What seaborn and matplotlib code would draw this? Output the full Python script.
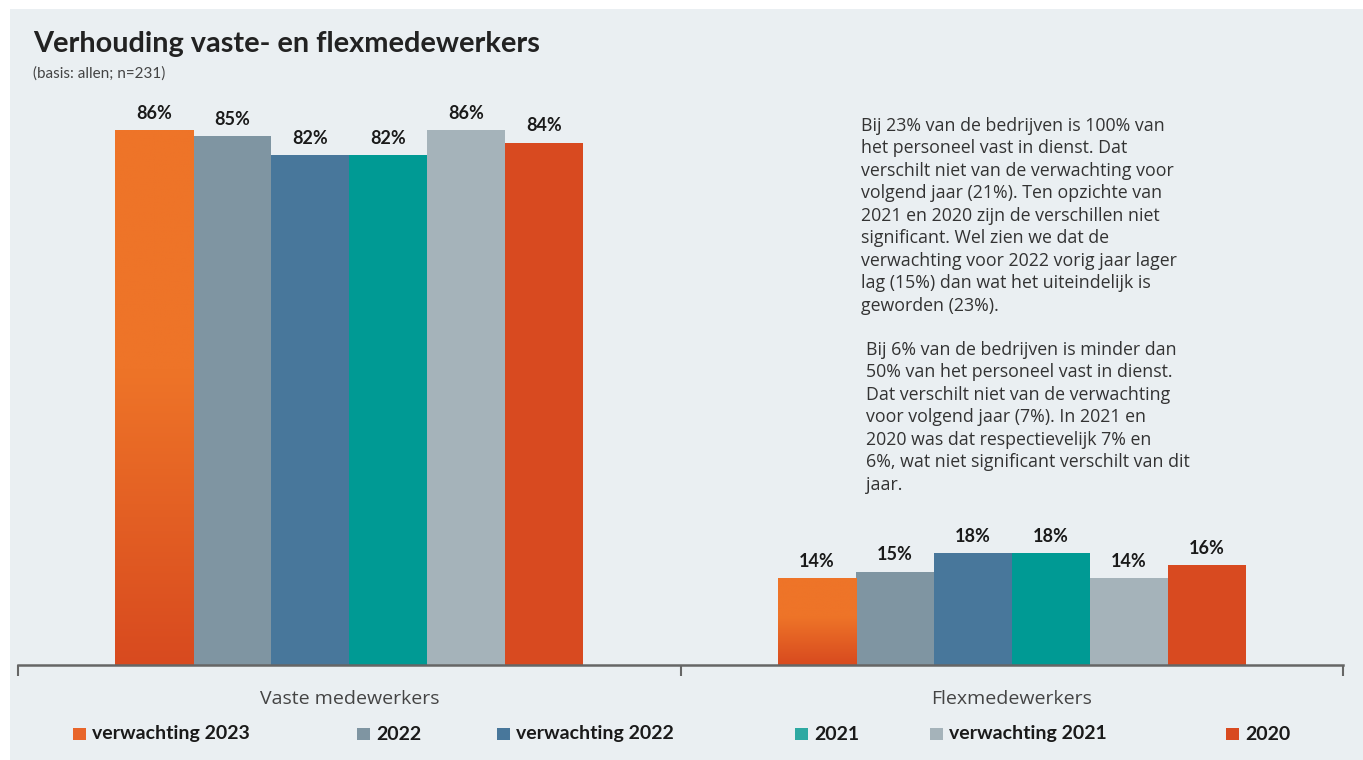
import numpy as np
import pandas as pd
import matplotlib
matplotlib.use("Agg")
import matplotlib.pyplot as plt
import seaborn as sns
from matplotlib.colors import LinearSegmentedColormap
from matplotlib.patches import Rectangle

# ---------------- data ----------------
categories = ["Vaste medewerkers", "Flexmedewerkers"]
series = ["verwachting 2023", "2022", "verwachting 2022", "2021", "verwachting 2021", "2020"]
vals_verw2023 = [86, 14]
vals_2022 = [85, 15]
vals_verw2022 = [82, 18]
vals_2021 = [82, 18]
vals_verw2021 = [86, 14]
vals_2020 = [84, 16]

title = "Verhouding vaste- en flexmedewerkers"
subtitle = "(basis: allen; n=231)"
note1 = ("Bij 23% van de bedrijven is 100% van\nhet personeel vast in dienst. Dat\n"
         "verschilt niet van de verwachting voor\nvolgend jaar (21%). Ten opzichte van\n"
         "2021 en 2020 zijn de verschillen niet\nsignificant. Wel zien we dat de\n"
         "verwachting voor 2022 vorig jaar lager\nlag (15%) dan wat het uiteindelijk is\n"
         "geworden (23%).")
note2 = ("Bij 6% van de bedrijven is minder dan\n50% van het personeel vast in dienst.\n"
         "Dat verschilt niet van de verwachting\nvoor volgend jaar (7%). In 2021 en\n"
         "2020 was dat respectievelijk 7% en\n6%, wat niet significant verschilt van dit\n"
         "jaar.")

colors = ["#EE7428", "#7F95A2", "#48779B", "#009A94", "#A5B3BA", "#D84A20"]
grad_top, grad_bottom = "#EE7428", "#D84A1F"

all_vals = [vals_verw2023, vals_2022, vals_verw2022, vals_2021, vals_verw2021, vals_2020]
rows = []
for s, v in zip(series, all_vals):
    for c, x in zip(categories, v):
        rows.append({"cat": c, "serie": s, "val": x})
df = pd.DataFrame(rows)

# ---------------- figure ----------------
sns.set_theme(style="white")
FONT = ["Lato", "DejaVu Sans"]
FONT2 = ["Open Sans", "DejaVu Sans"]
plt.rcParams["font.family"] = FONT

W, H = 1363, 760
fig = plt.figure(figsize=(W / 100, H / 100), dpi=100, facecolor="white")
bg = "#EAEFF2"
fig.patches.append(Rectangle((10 / W, 0), (W - 10) / W, (H - 9) / H,
                             transform=fig.transFigure, facecolor=bg, edgecolor="none", zorder=-10))

ax = fig.add_axes([18 / W, 95 / H, (1343 - 18) / W, 622 / H])
ax.set_facecolor("none")

sns.barplot(data=df, x="cat", y="val", hue="serie", order=categories, hue_order=series,
            palette=colors, width=0.707, gap=0, saturation=1, legend=False, ax=ax,
            edgecolor="none", linewidth=0)

ax.set_xlim(-0.5, 1.5)
ax.set_ylim(0, 100)
ax.set_xlabel("")
ax.set_ylabel("")
ax.set_yticks([])
for sp in ["top", "right", "left"]:
    ax.spines[sp].set_visible(False)
ax.spines["bottom"].set_color("#666666")
ax.spines["bottom"].set_linewidth(1.8)

ax.set_xticks([-0.5, 0.5, 1.5], minor=True)
ax.tick_params(axis="x", which="minor", bottom=True, length=8, width=1.5, color="#666666", direction="out")
ax.tick_params(axis="x", which="major", bottom=False, length=0, pad=18, labelsize=14, labelcolor="#444444")
for lbl in ax.get_xticklabels():
    lbl.set_family(FONT2)

# gradient on first series
cmap = LinearSegmentedColormap.from_list("g", [(0, grad_bottom), (0.55, grad_top), (1, grad_top)])
first = ax.containers[0]
for p in first.patches:
    x0, y0 = p.get_x(), p.get_y()
    w, h = p.get_width(), p.get_height()
    grad = np.linspace(0, 1, 256).reshape(-1, 1)
    im = ax.imshow(grad, extent=[x0, x0 + w, y0, y0 + h], origin="lower", cmap=cmap,
                   aspect="auto", zorder=p.get_zorder() + 0.1)
    im.set_clip_path(p)
ax.set_xlim(-0.5, 1.5)
ax.set_ylim(0, 100)

for cont in ax.containers:
    ax.bar_label(cont, fmt="%d%%", padding=6, fontsize=13, fontweight="bold", color="#1a1a1a")

# titles
fig.text(33 / W, 1 - 31 / H, title, fontsize=20.8, fontweight="bold", color="#222222", va="top", ha="left")
fig.text(33 / W, 1 - 74 / H, subtitle, fontsize=11, color="#444444", va="center", ha="left")

# notes
fig.text(861 / W, 1 - 117 / H, note1, fontsize=12.8, color="#333333", va="top", ha="left",
         linespacing=1.32, family=FONT2)
fig.text(866 / W, 1 - 341 / H, note2, fontsize=12.8, color="#333333", va="top", ha="left",
         linespacing=1.32, family=FONT2)

# legend (manual placement)
leg_x = [73, 357, 497, 795, 930, 1226]
leg_colors = ["#E8652A", "#7F95A2", "#48779B", "#2EA9A2", "#A5B3BA", "#D84A20"]
ly = 734
for x, s, c in zip(leg_x, series, leg_colors):
    fig.patches.append(Rectangle((x / W, 1 - (ly + 6) / H), 13 / W, 12 / H, transform=fig.transFigure,
                                 facecolor=c, edgecolor="none"))
    fig.text((x + 19) / W, 1 - ly / H, s, fontsize=14, fontweight="bold", color="#1a1a1a",
             va="center", ha="left")

fig.savefig("out.png", dpi=100, facecolor="white")
